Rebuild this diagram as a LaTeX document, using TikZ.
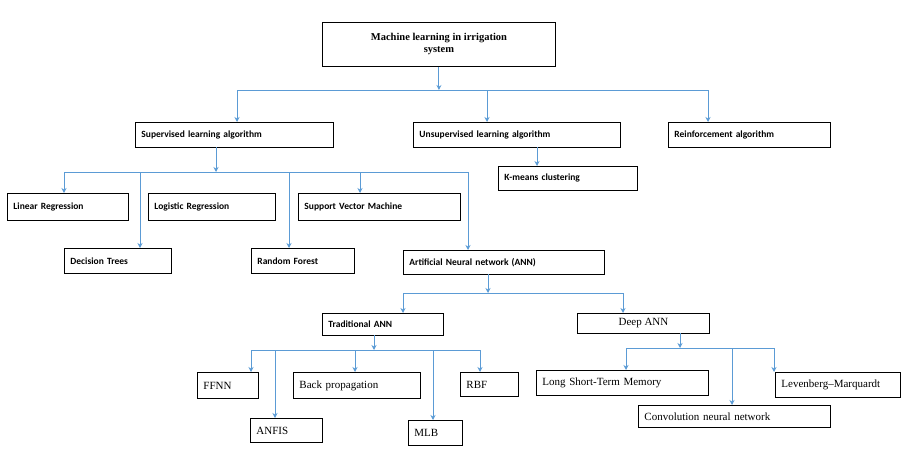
\documentclass[tikz,border=0pt]{standalone}
\usepackage{fontspec}
\setmainfont{Liberation Serif}
\newfontfamily\carfont{Carlito}
\usetikzlibrary{arrows.meta}
\definecolor{ln}{RGB}{91,155,213}
\tikzset{arr/.style={ln,line width=1pt,-{Stealth[length=5pt,width=5pt]}},
 bus/.style={ln,line width=1pt}}
\newcommand\bx[7]{\pgfmathsetmacro\bxw{#4-#2}\pgfmathsetmacro\bxh{#5-#3}\pgfmathsetmacro\bxt{#4-#2-12}%
\node[draw=black,line width=0.9pt,anchor=north west,inner sep=0pt,
 minimum width=\bxw pt,minimum height=\bxh pt,text width=\bxt pt,align=left,#6] (#1) at (#2,#3) {#7};}
\begin{document}
\begin{tikzpicture}[x=1pt,y=-1pt]
\useasboundingbox (0,0) rectangle (905,460);
\tikzset{sf/.style={font=\carfont\bfseries\fontsize{9.5}{11}\selectfont},
 rm/.style={font=\fontsize{11}{12}\selectfont}}
\node[draw=black,line width=0.9pt,anchor=north west,minimum width=233pt,minimum height=44pt,align=center,font=\bfseries\fontsize{10.5}{12}\selectfont] (root) at (322,22) {Machine learning in irrigation\\system};
\bx{sup}{135}{122}{333}{147}{sf}{Supervised learning algorithm}
\bx{uns}{413}{122}{620}{147}{sf}{Unsupervised learning algorithm}
\bx{rei}{668}{122}{830}{147}{sf}{Reinforcement algorithm}
\bx{km}{498}{166}{637}{190}{sf}{K-means clustering}
\bx{lr}{7}{193}{128}{220}{sf}{Linear Regression}
\bx{lgr}{148}{193}{275}{220}{sf}{Logistic Regression}
\bx{svm}{298}{193}{460}{220}{sf}{Support Vector Machine}
\bx{dt}{64}{248}{171}{273}{sf}{Decision Trees}
\bx{rf}{251}{248}{354}{273}{sf}{Random Forest}
\bx{ann}{403}{250}{604}{274}{sf}{Artificial Neural network (ANN)}
\bx{tr}{322}{313}{443}{335}{sf}{Traditional ANN}
\node[draw=black,line width=0.9pt,anchor=north west,minimum width=132pt,minimum height=20pt,rm] (deep) at (577,313) {Deep ANN};
\bx{ffnn}{197}{372}{258}{398}{rm}{FFNN}
\bx{bp}{293}{372}{420}{398}{rm}{Back propagation}
\bx{rbf}{460}{372}{518}{396}{rm}{RBF}
\bx{anf}{250}{418}{322}{442}{rm}{ANFIS}
\bx{mlb}{408}{420}{462}{445}{rm}{MLB}
\bx{lstm}{536}{370}{708}{395}{rm}{Long Short-Term Memory}
\bx{lm}{775}{372}{900}{397}{rm}{Levenberg–Marquardt}
\bx{cnn}{638}{405}{830}{427}{rm}{Convolution neural network}
% level 1
\coordinate (b1a) at (237,90); \coordinate (b1b) at (708,90);
\draw[arr] (root.south) -- (root.south |- b1a);
\draw[bus] (b1a) -- (b1b);
\draw[arr] (b1a) -- (sup.north -| b1a);
\draw[arr] (487,90) -- (uns.north -| 487,0);
\draw[arr] (b1b) -- (rei.north -| b1b);
\draw[arr] (537,147) -- (km.north -| 537,0);
% supervised
\coordinate (b2a) at (64,172); \coordinate (b2b) at (468,172);
\draw[arr] (216,147) -- (216,172);
\draw[bus] (b2a) -- (b2b);
\draw[arr] (b2a) -- (lr.north -| b2a);
\draw[arr] (140,172) -- (dt.north -| 140,0);
\draw[arr] (289,172) -- (rf.north -| 289,0);
\draw[arr] (360,172) -- (svm.north -| 360,0);
\draw[arr] (b2b) -- (ann.north -| b2b);
% ann
\coordinate (b3a) at (403,293); \coordinate (b3b) at (623,293);
\draw[arr] (488,274) -- (488,293);
\draw[bus] (b3a) -- (b3b);
\draw[arr] (b3a) -- (tr.north -| b3a);
\draw[arr] (b3b) -- (deep.north -| b3b);
% traditional
\coordinate (b4a) at (251,350); \coordinate (b4b) at (480,350);
\draw[arr] (374,335) -- (374,350);
\draw[bus] (b4a) -- (b4b);
\draw[arr] (b4a) -- (ffnn.north -| b4a);
\draw[arr] (275,350) -- (anf.north -| 275,0);
\draw[arr] (355,350) -- (bp.north -| 355,0);
\draw[arr] (433,350) -- (mlb.north -| 433,0);
\draw[arr] (b4b) -- (rbf.north -| b4b);
% deep
\coordinate (b5a) at (626,348); \coordinate (b5b) at (774,348);
\draw[arr] (680,333) -- (680,348);
\draw[bus] (b5a) -- (b5b);
\draw[arr] (b5a) -- (lstm.north -| b5a);
\draw[arr] (732,348) -- (cnn.north -| 732,0);
\draw[arr] (b5b) -- (lm.north -| b5b);
\end{tikzpicture}
\end{document}
